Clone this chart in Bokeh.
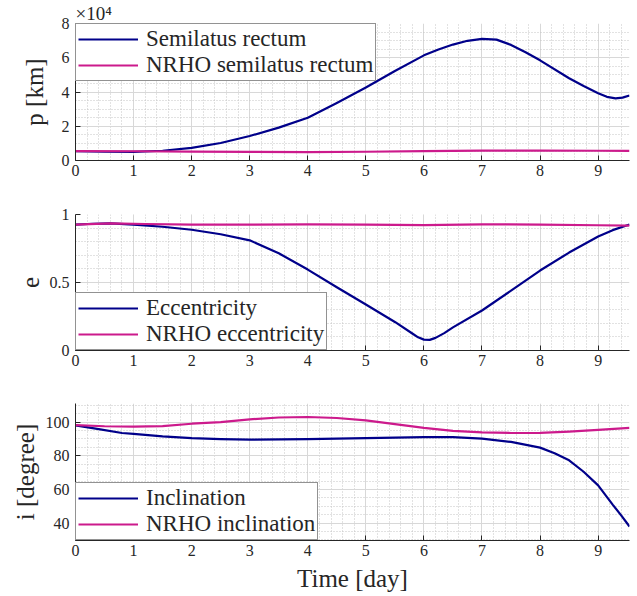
from bokeh.plotting import figure
from bokeh.models import (Range1d, SingleIntervalTicker, CustomJSTickFormatter,
                          Legend, LegendItem)
from bokeh.layouts import column
from bokeh.embed import file_html
from bokeh.resources import INLINE

FONT = "Liberation Serif"
BLUE = "#00008a"
MAG = "#cc1a8c"
AX = "#262626"

# ---- data ----
t_p = [0, 0.5, 1.0, 1.5, 2.0, 2.5, 3.0, 3.5, 4.0, 4.5, 5.0, 5.5, 6.0, 6.25, 6.5,
       6.75, 7.0, 7.25, 7.5, 7.75, 8.0, 8.5, 8.75, 9.0, 9.15, 9.3, 9.42, 9.54]
p_sc = [5400, 5100, 5000, 5700, 7400, 10200, 14300, 19200, 25000, 33600, 42600,
        52300, 61400, 64800, 67700, 69900, 71000, 70600, 67500, 63200, 58500,
        48000, 43500, 39300, 37200, 36300, 36700, 38000]
t_p_nrho = [0, 1, 2, 3, 4, 5, 6, 7, 8, 9, 9.54]
p_nrho = [5500, 5400, 5200, 5000, 4900, 5100, 5500, 5800, 5800, 5700, 5600]

t_e = [0, 0.3, 0.6, 1.0, 1.5, 2.0, 2.5, 3.0, 3.5, 4.0, 4.5, 5.0, 5.5, 5.8, 5.9,
       6.0, 6.1, 6.2, 6.35, 6.5, 7.0, 7.5, 8.0, 8.5, 9.0, 9.25, 9.54]
e_sc = [0.925, 0.932, 0.935, 0.925, 0.91, 0.888, 0.855, 0.81, 0.715, 0.595, 0.465,
        0.338, 0.21, 0.125, 0.097, 0.08, 0.078, 0.093, 0.128, 0.17, 0.294, 0.44,
        0.588, 0.72, 0.838, 0.885, 0.926]
t_e_nrho = [0, 0.6, 1.2, 2, 3, 4, 5, 6, 7, 8, 9, 9.54]
e_nrho = [0.925, 0.935, 0.93, 0.926, 0.926, 0.928, 0.926, 0.922, 0.928, 0.926,
          0.921, 0.918]

t_i = [0, 0.4, 0.8, 1.0, 1.5, 2.0, 2.5, 3.0, 4.0, 5.0, 6.0, 6.5, 7.0, 7.5, 8.0,
       8.25, 8.5, 8.75, 9.0, 9.25, 9.4, 9.54]
i_sc = [98, 95.8, 93.5, 93.0, 91.5, 90.5, 89.9, 89.6, 89.8, 90.5, 91, 91, 90.2,
        88.2, 84.8, 81.5, 77.3, 70.5, 62.4, 51, 44.5, 38]
t_i_nrho = [0, 0.5, 1, 1.5, 2, 2.5, 3, 3.5, 4, 4.5, 5, 5.5, 6, 6.5, 7, 7.5, 8,
            8.5, 9, 9.54]
i_nrho = [98.2, 97.5, 97.3, 97.6, 99.0, 100, 101.6, 102.7, 103, 102.4, 101, 98.8,
          96.5, 94.8, 93.9, 93.5, 93.6, 94.3, 95.3, 96.5]

T_MAX = 9.54


def make_fig(height, top, bottom, y0, y1, yint, yminor, ylabel, label_standoff,
             xlabel=None):
    p = figure(width=637, height=height, output_backend="svg", toolbar_location=None,
               x_range=Range1d(0, T_MAX), y_range=Range1d(y0, y1),
               min_border_left=75, min_border_right=8, min_border_top=top,
               min_border_bottom=bottom)
    p.outline_line_color = None
    p.background_fill_color = "white"
    p.border_fill_color = "white"
    p.xaxis.ticker = SingleIntervalTicker(interval=1, num_minor_ticks=5)
    p.yaxis.ticker = SingleIntervalTicker(interval=yint, num_minor_ticks=yminor)
    for ax in (p.xaxis[0], p.yaxis[0]):
        ax.axis_line_color = AX
        ax.axis_line_width = 1
        ax.major_tick_line_color = AX
        ax.major_tick_in = 5
        ax.major_tick_out = 0
        ax.minor_tick_in = 0
        ax.minor_tick_out = 0
        ax.major_label_text_font = FONT
        ax.major_label_text_font_size = "16px"
        ax.major_label_text_color = AX
        ax.axis_label_text_font = FONT
        ax.axis_label_text_font_style = "normal"
        ax.axis_label_text_color = AX
    p.xaxis.major_label_standoff = 4
    p.yaxis.major_label_standoff = 6
    p.yaxis.axis_label = ylabel
    p.yaxis.axis_label_text_font_size = "25px"
    p.yaxis.axis_label_standoff = label_standoff
    if xlabel:
        p.xaxis.axis_label = xlabel
        p.xaxis.axis_label_text_font_size = "25px"
        p.xaxis.axis_label_standoff = 6
    for g in (p.xgrid[0], p.ygrid[0]):
        g.grid_line_color = "#d8d8d8"
        g.grid_line_width = 1
        g.minor_grid_line_color = "#c4c4c4"
        g.minor_grid_line_dash = "1 2"
        g.minor_grid_line_width = 1
    return p


def add_legend(p, items, loc):
    lg = Legend(items=items, location=loc, margin=0, padding=2, spacing=0,
                glyph_width=60, glyph_height=26, label_height=26,
                label_standoff=8, border_line_color=AX, border_line_width=1,
                background_fill_color="white", background_fill_alpha=1.0,
                label_text_font=FONT, label_text_font_size="23px",
                label_text_color=AX, label_text_baseline="middle")
    p.add_layout(lg)


def lines(p, xa, ya, xb, yb):
    ra = p.line(xa, ya, line_color=BLUE, line_width=2.2, line_join="round")
    rb = p.line(xb, yb, line_color=MAG, line_width=2.2, line_join="round")
    return ra, rb


# ---- panel 1: semilatus rectum ----
p1 = make_fig(187, 21, 27, 0, 80000, 20000, 4, "p [km]", 11)
p1.yaxis.formatter = CustomJSTickFormatter(code="return (tick/1e4).toFixed(0);")
r1, r2 = lines(p1, t_p, p_sc, t_p_nrho, p_nrho)
add_legend(p1, [LegendItem(label="Semilatus rectum", renderers=[r1]),
                LegendItem(label="NRHO semilatus rectum", renderers=[r2])], "top_left")
p1.title.text = "×10⁴"
p1.title.align = "left"
p1.title.text_font = FONT
p1.title.text_font_size = "19px"
p1.title.text_font_style = "normal"
p1.title.text_color = AX
p1.title.standoff = 0
p1.title.offset = 0

# ---- panel 2: eccentricity ----
p2 = make_fig(190, 27, 27, 0, 1, 0.5, 5, "e", 8)
p2.yaxis.formatter = CustomJSTickFormatter(code="return String(+tick.toFixed(2));")
r3, r4 = lines(p2, t_e, e_sc, t_e_nrho, e_nrho)
add_legend(p2, [LegendItem(label="Eccentricity", renderers=[r3]),
                LegendItem(label="NRHO eccentricity", renderers=[r4])], "bottom_left")

# ---- panel 3: inclination ----
p3 = make_fig(219, 26, 56, 29.7, 111, 20, 4, "i [degree]", 4, xlabel="Time [day]")
r5, r6 = lines(p3, t_i, i_sc, t_i_nrho, i_nrho)
add_legend(p3, [LegendItem(label="Inclination", renderers=[r5]),
                LegendItem(label="NRHO inclination", renderers=[r6])], "bottom_left")

layout = column(p1, p2, p3, spacing=0)
open("out.html", "w").write(file_html(layout, INLINE))
